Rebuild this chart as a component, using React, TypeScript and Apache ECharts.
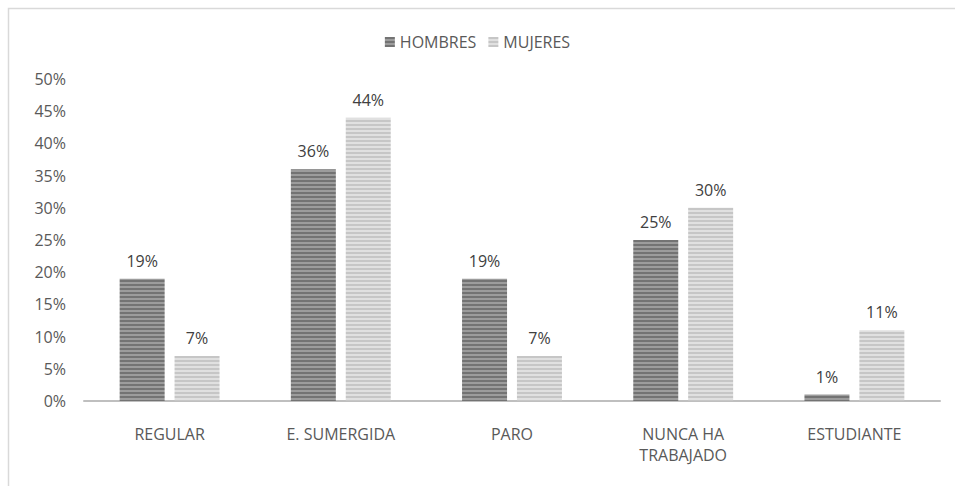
import React, { useEffect, useRef } from "react";
import * as echarts from "echarts";

const categories = ["REGULAR", "E. SUMERGIDA", "PARO", "NUNCA HA\nTRABAJADO", "ESTUDIANTE"];
const hombres = [19, 36, 19, 25, 1];
const mujeres = [7, 44, 7, 30, 11];
const seriesNames = ["HOMBRES", "MUJERES"];

function stripes(dark: string, light: string) {
  const c = document.createElement("canvas");
  c.width = 4;
  c.height = 4;
  const ctx = c.getContext("2d")!;
  ctx.fillStyle = light;
  ctx.fillRect(0, 0, 4, 4);
  ctx.fillStyle = dark;
  ctx.fillRect(0, 0, 4, 2);
  return { image: c, repeat: "repeat" as const };
}

export default function App() {
  const ref = useRef<HTMLDivElement>(null);
  useEffect(() => {
    const chart = echarts.init(ref.current!, null, { renderer: "svg" });
    const font = "'Open Sans', 'Noto Sans', sans-serif";
    const label = {
      show: true,
      position: "top" as const,
      distance: 10,
      color: "#404040",
      fontSize: 16,
      fontFamily: font,
      formatter: (p: any) => p.value + "%",
    };
    chart.setOption({
      animation: false,
      backgroundColor: "#ffffff",
      graphic: [
        {
          type: "rect",
          shape: { x: 8.5, y: 8.5, width: 1200, height: 1000 },
          style: { fill: "none", stroke: "#d9d9d9", lineWidth: 1.5 },
          silent: true,
        },
      ],
      legend: {
        top: 29,
        left: "center",
        itemWidth: 10,
        itemHeight: 10,
        itemGap: 12,
        icon: "rect",
        textStyle: { color: "#595959", fontSize: 16, fontFamily: font },
        data: seriesNames,
      },
      grid: { left: 84, right: 15, top: 79, bottom: 85 },
      xAxis: {
        type: "category",
        data: categories,
        axisLine: { lineStyle: { color: "#bfbfbf", width: 2 } },
        axisTick: { show: false },
        axisLabel: {
          color: "#595959",
          fontSize: 16,
          fontFamily: font,
          margin: 22,
          lineHeight: 21,
          interval: 0,
        },
      },
      yAxis: {
        type: "value",
        min: 0,
        max: 50,
        interval: 5,
        axisLine: { show: false },
        axisTick: { show: false },
        splitLine: { show: false },
        axisLabel: {
          color: "#595959",
          fontSize: 16,
          fontFamily: font,
          margin: 18,
          formatter: "{value}%",
        },
      },
      series: [
        {
          name: seriesNames[0],
          type: "bar",
          data: hombres,
          barWidth: 45,
          barGap: "22%",
          itemStyle: { color: stripes("#737373", "#9c9c9c") },
          label,
        },
        {
          name: seriesNames[1],
          type: "bar",
          data: mujeres,
          barWidth: 45,
          itemStyle: { color: stripes("#c6c6c6", "#e0e0e0") },
          label,
        },
      ],
    });
    return () => chart.dispose();
  }, []);
  return (
    <div
      ref={ref}
      style={{ position: "fixed", left: 0, top: 0, width: 955, height: 486 }}
    />
  );
}
